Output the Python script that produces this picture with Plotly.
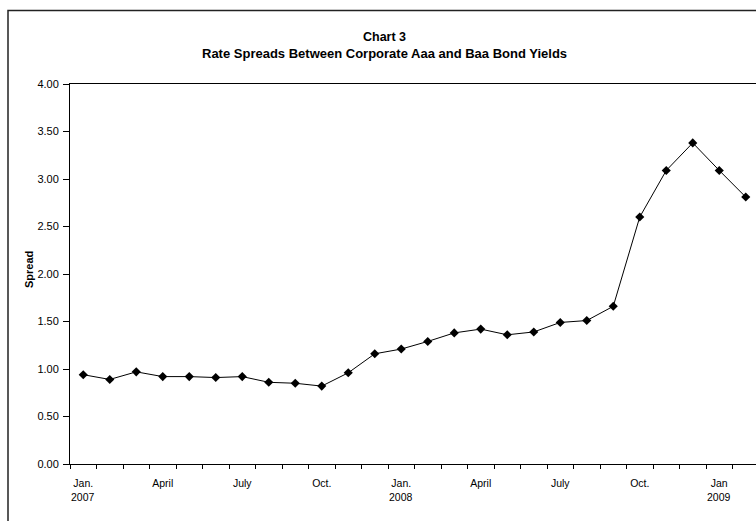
import plotly.graph_objects as go

# Monthly spread, Jan 2007 .. Feb 2009
months = ["2007-01", "2007-02", "2007-03", "2007-04", "2007-05", "2007-06",
          "2007-07", "2007-08", "2007-09", "2007-10", "2007-11", "2007-12",
          "2008-01", "2008-02", "2008-03", "2008-04", "2008-05", "2008-06",
          "2008-07", "2008-08", "2008-09", "2008-10", "2008-11", "2008-12",
          "2009-01", "2009-02"]
spread = [0.94, 0.89, 0.97, 0.92, 0.92, 0.91, 0.92, 0.86, 0.85, 0.82, 0.96, 1.16,
          1.21, 1.29, 1.38, 1.42, 1.36, 1.39, 1.49, 1.51, 1.66, 2.60, 3.09, 3.38,
          3.09, 2.81]
month_tick_pos = [0, 3, 6, 9, 12, 15, 18, 21, 24]
month_tick_text = ["Jan.", "April", "July", "Oct.", "Jan.", "April", "July", "Oct.", "Jan"]
year_pos = [0, 12, 24]
year_text = ["2007", "2008", "2009"]
y_ticks = [0, 0.5, 1.0, 1.5, 2.0, 2.5, 3.0, 3.5, 4.0]

x_idx = list(range(len(months)))

W, H = 756, 521
L, R, T, B = 70, 0, 84, 57
pw = W - L - R
ph = H - T - B
cat_px = 26.5

FONT = "Liberation Sans, Arial, sans-serif"

fig = go.Figure()
fig.add_trace(go.Scatter(
    x=x_idx, y=spread, mode="lines+markers",
    line=dict(color="black", width=1),
    marker=dict(symbol="diamond", size=7, color="black"),
    showlegend=False, hoverinfo="skip", cliponaxis=False,
))

def px_x(p):
    return (p - L) / pw

def px_y(p):
    return (H - B - p) / ph

annotations = [
    dict(text="<b>Chart 3</b>", x=px_x(384), y=px_y(37), xref="paper", yref="paper",
         showarrow=False, font=dict(family=FONT, size=12.5, color="black"),
         xanchor="center", yanchor="middle"),
    dict(text="<b>Rate Spreads Between Corporate Aaa and Baa Bond Yields</b>",
         x=px_x(384), y=px_y(54), xref="paper", yref="paper",
         showarrow=False, font=dict(family=FONT, size=13, color="black"),
         xanchor="center", yanchor="middle"),
    dict(text="<b>Spread</b>", x=px_x(29), y=px_y(270), xref="paper", yref="paper",
         showarrow=False, textangle=-90, font=dict(family=FONT, size=11, color="black"),
         xanchor="center", yanchor="middle"),
]
for p, t in zip(year_pos, year_text):
    annotations.append(dict(text=t, x=p, y=px_y(497), xref="x", yref="paper",
                            showarrow=False, font=dict(family=FONT, size=10.5, color="black"),
                            xanchor="center", yanchor="middle"))

fig.update_layout(
    width=W, height=H,
    margin=dict(l=L, r=R, t=T, b=B, pad=0),
    paper_bgcolor="white", plot_bgcolor="white",
    font=dict(family=FONT, size=10.5, color="black"),
    annotations=annotations,
    shapes=[dict(type="rect", xref="paper", yref="paper",
                 x0=px_x(8), x1=px_x(W + 20), y0=px_y(H + 20), y1=px_y(10.5),
                 line=dict(color="#222222", width=1.5), fillcolor="rgba(0,0,0,0)",
                 layer="below")],
    xaxis=dict(
        range=[-0.5, -0.5 + pw / cat_px],
        showgrid=False, zeroline=False,
        showline=True, linecolor="black", linewidth=1, mirror=True,
        tickmode="array", tickvals=month_tick_pos, ticktext=month_tick_text,
        ticks="", ticklabelstandoff=9,
        tickfont=dict(family=FONT, size=10.5, color="black"),
        minor=dict(tick0=-0.5, dtick=1, ticks="outside", ticklen=4,
                   tickcolor="black", tickwidth=1, showgrid=False),
        fixedrange=True,
    ),
    yaxis=dict(
        range=[0, 4], showgrid=False, zeroline=False,
        showline=True, linecolor="black", linewidth=1,
        tickmode="array", tickvals=y_ticks, tickformat=".2f",
        ticks="outside", ticklen=6, tickcolor="black", tickwidth=1,
        ticklabelstandoff=2,
        tickfont=dict(family=FONT, size=11, color="black"),
        fixedrange=True,
    ),
)

fig.write_html("out.html", config={"displayModeBar": False})
